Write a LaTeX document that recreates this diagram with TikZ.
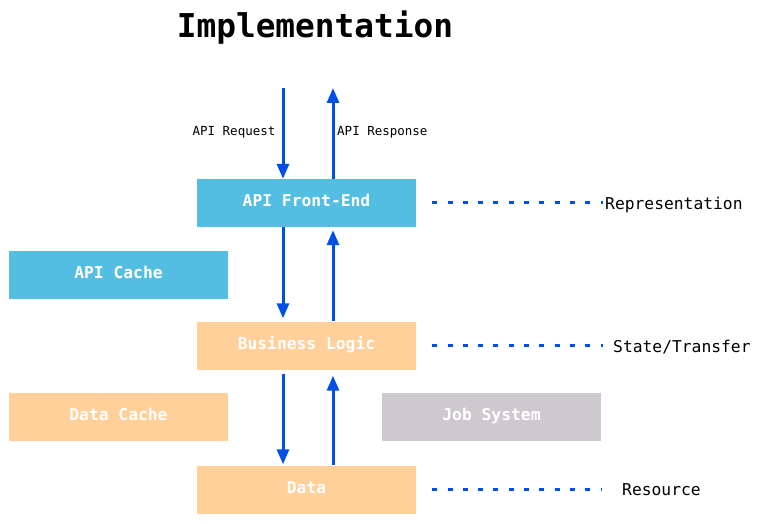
\documentclass[tikz,border=0pt]{standalone}
\usepackage{fontspec}
\setmonofont{DejaVu Sans Mono}
\usetikzlibrary{arrows.meta}
\definecolor{feblue}{RGB}{83,190,225}
\definecolor{peach}{RGB}{255,208,153}
\definecolor{jobgray}{RGB}{206,201,206}
\definecolor{arrblue}{RGB}{0,80,230}
\tikzset{
  box/.style={minimum width=219pt, minimum height=48pt, inner sep=0pt, text height=12pt, text depth=5pt, font=\ttfamily\bfseries\fontsize{16.3}{19}\selectfont, text=white},
  flow/.style={draw=arrblue, line width=3pt, -{Triangle[length=15pt,width=12pt]}},
  dots/.style={draw=arrblue, line width=3pt, dash pattern=on 5pt off 10.3pt},
  lbl/.style={font=\ttfamily\fontsize{12.5}{15}\selectfont, inner sep=0pt},
  side/.style={font=\ttfamily\fontsize{16.3}{19}\selectfont, inner sep=0pt, text height=12pt, text depth=4pt, anchor=west}
}
\begin{document}
\begin{tikzpicture}[x=1pt,y=-1pt]
\useasboundingbox (0,0) rectangle (761,524);
\node[font=\ttfamily\bfseries\fontsize{32.8}{36}\selectfont, inner sep=0pt] (title) at (315,28) {Implementation};
\node[box, fill=feblue] (fe) at (306.5,203) {API Front-End};
\node[box, fill=feblue] (ac) at (118.5,274.5) {API Cache};
\node[box, fill=peach] (bl) at (306.5,345.5) {Business Logic};
\node[box, fill=peach] (dc) at (118.5,416.5) {Data Cache};
\node[box, fill=jobgray] (js) at (491.5,416.5) {Job System};
\node[box, fill=peach] (da) at (306.5,489.5) {Data};
\coordinate (reqtop) at (283,88);
\coordinate (restop) at (333,88);
\node[lbl] (req) at (234,132) {API Request};
\node[lbl, anchor=west] (res) at (337,132) {API Response};
\draw[flow] (reqtop) -- (reqtop |- fe.north);
\draw[flow] (fe.north -| restop) -- (restop);
\draw[flow, shorten >=3pt] (fe.south -| reqtop) -- (bl.north -| reqtop);
\draw[flow, shorten >=3pt] (bl.north -| restop) -- (fe.south -| restop);
\draw[flow, shorten <=4pt, shorten >=1pt] (bl.south -| reqtop) -- (da.north -| reqtop);
\draw[flow, shorten >=6pt] (da.north -| restop) -- (bl.south -| restop);
\node[side] (rep) at (605,206) {Representation};
\node[side] (st) at (613,348) {State/Transfer};
\node[side] (rs) at (622,491) {Resource};
\draw[dots] ([xshift=16pt]fe.east) -- ([xshift=-2pt]rep.west |- fe.east);
\draw[dots] ([xshift=16pt]bl.east) -- ([xshift=-10pt]st.west |- bl.east);
\draw[dots] ([xshift=16pt]da.east) -- ([xshift=-20pt]rs.west |- da.east);
\end{tikzpicture}
\end{document}
